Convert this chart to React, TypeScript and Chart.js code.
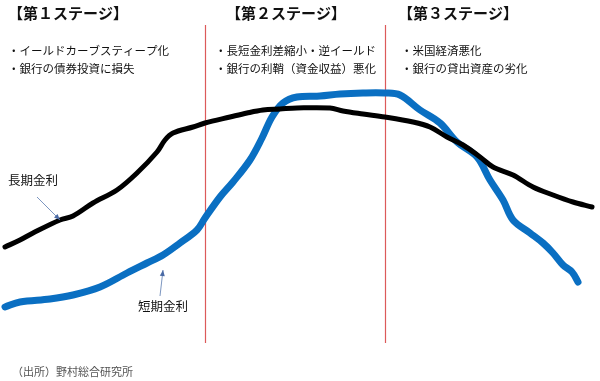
import React, { useEffect, useRef } from "react";
import { Chart, registerables } from "chart.js";

Chart.register(...registerables);

// Time axis (arbitrary units) and rate level (arbitrary units)
const longX = [5, 20, 33, 60, 73, 93, 117, 137, 157, 165, 173, 193, 205, 230, 247, 263, 280, 297, 330, 343, 363, 385, 413, 430, 447, 463, 480, 493, 513, 533, 553, 573, 592];
const longY = [134, 141, 148, 161, 165, 178, 191, 208, 229, 241, 248, 254, 258, 264, 268, 271, 272, 273, 273, 270, 267, 264, 259, 254, 244, 236, 224, 214, 206, 194, 186, 179, 174];

const shortX = [5, 20, 50, 73, 100, 127, 147, 163, 180, 197, 205, 220, 233, 250, 262, 272, 283, 297, 320, 340, 363, 385, 400, 420, 440, 457, 477, 490, 503, 513, 530, 543, 553, 563, 572, 578];
const shortY = [74, 79, 82, 86, 94, 108, 118, 126, 138, 151, 163, 184, 199, 221, 243, 264, 278, 284, 285, 287, 288, 288, 286, 271, 258, 239, 224, 201, 181, 161, 148, 138, 128, 116, 109, 99];

const stageBoundaries = [205, 385];

const stageTitles = ["【第１ステージ】", "【第２ステージ】", "【第３ステージ】"];
const stageBullets = [
  ["・イールドカーブスティープ化", "・銀行の債券投資に損失"],
  ["・長短金利差縮小・逆イールド", "・銀行の利鞘（資金収益）悪化"],
  ["・米国経済悪化", "・銀行の貸出資産の劣化"],
];
const seriesNames = ["長期金利", "短期金利"];
const sourceNote = "（出所）野村総合研究所";

const FONT = '"Noto Sans CJK JP", "Noto Sans", sans-serif';

const annotationPlugin = {
  id: "annotations",
  beforeDatasetsDraw(chart: any) {
    const { ctx, scales } = chart;
    ctx.save();
    ctx.strokeStyle = "#dc5a5a";
    ctx.lineWidth = 1.2;
    stageBoundaries.forEach((b) => {
      const x = Math.round(scales.x.getPixelForValue(b)) + 0.5;
      ctx.beginPath();
      ctx.moveTo(x, 25);
      ctx.lineTo(x, 343);
      ctx.stroke();
    });
    ctx.restore();
  },
  afterDraw(chart: any) {
    const { ctx } = chart;
    ctx.save();
    ctx.fillStyle = "#111";
    ctx.textBaseline = "middle";
    ctx.textAlign = "left";
    const titleX = [8, 226, 398];
    const bulletX = [8, 215, 401];
    ctx.font = `bold 15px ${FONT}`;
    stageTitles.forEach((t, i) => ctx.fillText(t, titleX[i], 13));
    ctx.font = `11.5px ${FONT}`;
    stageBullets.forEach((lines, i) => {
      lines.forEach((l, j) => ctx.fillText(l, bulletX[i], 51 + j * 18));
    });
    ctx.font = `12.5px ${FONT}`;
    ctx.fillText(seriesNames[0], 8, 180);
    ctx.fillText(seriesNames[1], 138, 306);
    ctx.fillStyle = "#555";
    ctx.font = `11px ${FONT}`;
    ctx.fillText(sourceNote, 12, 372);

    // arrows
    const drawArrow = (x1: number, y1: number, x2: number, y2: number) => {
      ctx.strokeStyle = "#5b7bb0";
      ctx.fillStyle = "#4a6aa5";
      ctx.lineWidth = 0.8;
      ctx.beginPath();
      ctx.moveTo(x1, y1);
      ctx.lineTo(x2, y2);
      ctx.stroke();
      const a = Math.atan2(y2 - y1, x2 - x1);
      const L = 6, W = 2.5;
      ctx.beginPath();
      ctx.moveTo(x2, y2);
      ctx.lineTo(x2 - L * Math.cos(a) + W * Math.sin(a), y2 - L * Math.sin(a) - W * Math.cos(a));
      ctx.lineTo(x2 - L * Math.cos(a) - W * Math.sin(a), y2 - L * Math.sin(a) + W * Math.cos(a));
      ctx.closePath();
      ctx.fill();
    };
    drawArrow(37, 197, 60, 220);
    drawArrow(160, 296, 163, 270);
    ctx.restore();
  },
};

export default function App() {
  const ref = useRef<HTMLCanvasElement>(null);
  useEffect(() => {
    if (!ref.current) return;
    const chart = new Chart(ref.current, {
      type: "line",
      data: {
        datasets: [
          {
            label: seriesNames[0],
            data: longX.map((x, i) => ({ x, y: longY[i] })),
            borderColor: "#000000",
            borderWidth: 5,
            pointRadius: 0,
            tension: 0.35,
            borderCapStyle: "round",
            borderJoinStyle: "round",
          },
          {
            label: seriesNames[1],
            data: shortX.map((x, i) => ({ x, y: shortY[i] })),
            borderColor: "#0a6fc2",
            borderWidth: 7,
            pointRadius: 0,
            tension: 0.35,
            borderCapStyle: "round",
            borderJoinStyle: "round",
          },
        ],
      },
      options: {
        animation: false,
        responsive: false,
        devicePixelRatio: 1,
        layout: { padding: 0 },
        plugins: { legend: { display: false }, tooltip: { enabled: false } },
        scales: {
          x: { type: "linear", min: 0, max: 600, display: false },
          y: { type: "linear", min: 0, max: 381, display: false },
        },
      },
      plugins: [annotationPlugin],
    } as any);
    return () => chart.destroy();
  }, []);
  return (
    <div style={{ position: "fixed", left: 0, top: 0, width: 600, height: 381, background: "#fff" }}>
      <canvas ref={ref} width={600} height={381} />
    </div>
  );
}
